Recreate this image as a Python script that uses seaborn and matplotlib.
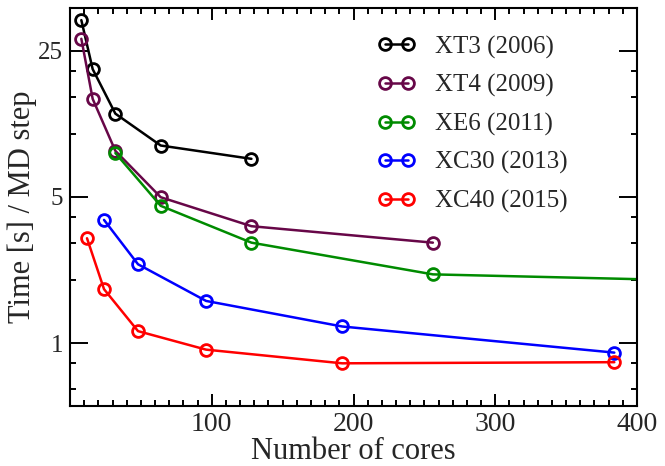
import matplotlib
matplotlib.use("Agg")
import matplotlib.pyplot as plt
import matplotlib.ticker as mticker
import seaborn as sns
import pandas as pd

# ---- data ----
labels = ["XT3 (2006)", "XT4 (2009)", "XE6 (2011)", "XC30 (2013)", "XC40 (2015)"]
colors = ["#000000", "#670748", "#008B00", "#0000FF", "#FF0000"]

xt3_cores = [8, 16, 32, 64, 128]
xt3_time = [35.0, 20.4, 12.5, 8.8, 7.6]

xt4_cores = [8, 16, 32, 64, 128, 256]
xt4_time = [28.5, 14.7, 8.3, 4.98, 3.62, 3.02]

xe6_cores = [32, 64, 128, 256, 512]
xe6_time = [8.1, 4.53, 3.02, 2.13, 1.94]

xc30_cores = [24, 48, 96, 192, 384]
xc30_time = [3.88, 2.38, 1.59, 1.2, 0.90]

xc40_cores = [12, 24, 48, 96, 192, 384]
xc40_time = [3.17, 1.81, 1.14, 0.93, 0.80, 0.81]

series_cores = [xt3_cores, xt4_cores, xe6_cores, xc30_cores, xc40_cores]
series_time = [xt3_time, xt4_time, xe6_time, xc30_time, xc40_time]

ymajor = [1, 5, 25]
yminor = [0.6, 0.8, 2, 3, 4, 10, 15, 20]
xmajor = [100, 200, 300, 400]

# ---- style ----
sns.set_style("ticks")
plt.rcParams["font.family"] = ["Liberation Serif", "DejaVu Serif"]

fig = plt.figure(figsize=(6.65, 4.66), dpi=100)
ax = fig.add_axes([70 / 665, 1 - 406 / 466, 567 / 665, 398 / 466])

for lab, col, xs, ys in zip(labels, colors, series_cores, series_time):
    df = pd.DataFrame({"cores": xs, "time": ys})
    sns.lineplot(data=df, x="cores", y="time", ax=ax, color=col, label=lab,
                 marker="o", markersize=8.5, markerfacecolor="none",
                 markeredgecolor=col, markeredgewidth=2.0, linewidth=1.8,
                 sort=False, estimator=None)

ax.set_yscale("log")
ax.set_xlim(0, 400)
ax.set_ylim(0.5, 40)
ax.yaxis.set_major_locator(mticker.FixedLocator(ymajor))
ax.yaxis.set_major_formatter(mticker.FixedFormatter([str(v) for v in ymajor]))
ax.yaxis.set_minor_locator(mticker.FixedLocator(yminor))
ax.yaxis.set_minor_formatter(mticker.NullFormatter())
ax.xaxis.set_major_locator(mticker.FixedLocator(xmajor))
ax.xaxis.set_minor_locator(mticker.MultipleLocator(10))

for s in ax.spines.values():
    s.set_linewidth(1.5)
    s.set_color("black")

ax.tick_params(which="both", direction="in", top=True, right=True,
               width=1.4, color="black")
ax.tick_params(axis="x", which="major", length=8.6, labelsize=20, pad=4)
ax.tick_params(axis="x", which="minor", length=4.3)
ax.tick_params(axis="y", which="major", length=13, labelsize=18, pad=5)
ax.tick_params(axis="y", which="minor", length=4.3)

ax.set_xlabel("Number of cores", fontsize=22, labelpad=0)
ax.set_ylabel("Time [s] / MD step", fontsize=22, labelpad=1)

leg = ax.legend(loc="upper left", bbox_to_anchor=(355 / 665, 1 - 13 / 466),
                bbox_transform=fig.transFigure, frameon=False, fontsize=18,
                numpoints=2, handlelength=1.5, handletextpad=0.8,
                labelspacing=0.62, borderpad=0.4)

fig.savefig("out.png", dpi=100)
